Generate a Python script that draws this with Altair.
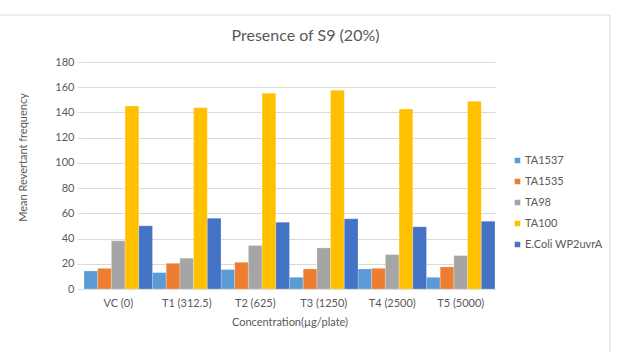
import altair as alt
import pandas as pd

categories = ["VC (0)", "T1 (312.5)", "T2 (625)", "T3 (1250)", "T4 (2500)", "T5 (5000)"]
series = ["TA1537", "TA1535", "TA98", "TA100", "E.Coli WP2uvrA"]
colors = ["#5B9BD5", "#ED7D31", "#A5A5A5", "#FFC000", "#4472C4"]

ta1537 = [14.3, 13.0, 15.4, 9.3, 15.9, 9.3]
ta1535 = [16.4, 20.4, 21.2, 15.9, 16.4, 17.5]
ta98 = [38.2, 24.4, 34.5, 32.6, 27.3, 26.5]
ta100 = [145.1, 143.8, 155.2, 157.6, 142.7, 148.8]
ecoli = [50.1, 56.2, 53.0, 55.7, 49.3, 53.8]

values = [ta1537, ta1535, ta98, ta100, ecoli]
rows = []
for s, vals in zip(series, values):
    for c, v in zip(categories, vals):
        rows.append({"Concentration": c, "Strain": s, "Value": v})
df = pd.DataFrame(rows)

FONT = "Lato"
GREY = "#595959"

bars = alt.Chart(df).mark_bar(stroke="white", strokeWidth=0.4, strokeOpacity=0.6).encode(
    x=alt.X("Concentration:N", sort=categories,
            scale=alt.Scale(paddingInner=0, paddingOuter=0),
            axis=alt.Axis(title="Concentration(µg/plate)", labelAngle=0, ticks=False,
                          domain=True, domainColor="#d9d9d9", labelPadding=8,
                          titlePadding=8, labelFontSize=11, titleFontSize=11,
                          labelColor=GREY, titleColor=GREY, titleFontWeight="normal")),
    xOffset=alt.XOffset("Strain:N", sort=series, scale=alt.Scale(paddingInner=0, paddingOuter=0)),
    y=alt.Y("Value:Q", scale=alt.Scale(domain=[0, 180]),
            axis=alt.Axis(title="Mean Revertant frequency", values=list(range(0, 181, 20)),
                          domain=False, ticks=True, tickSize=7, tickColor="#e0e0e0",
                          gridColor="#d9d9d9", labelPadding=3, titlePadding=26,
                          labelFontSize=11, titleFontSize=11, labelColor=GREY,
                          titleColor=GREY, titleFontWeight="normal", titleY=95)),
    color=alt.Color("Strain:N", sort=series,
                    scale=alt.Scale(domain=series, range=colors),
                    legend=alt.Legend(title=None, orient="none", legendX=428, legendY=93,
                                      symbolType="square", symbolSize=50,
                                      labelFontSize=11, labelColor=GREY, rowPadding=6,
                                      labelOffset=2)),
)

frame_df = pd.DataFrame({"k": [0]})
top_line = alt.Chart(frame_df).mark_rule(color="#d9d9d9", strokeWidth=1).encode(
    x=alt.value(-84), x2=alt.value(526), y=alt.value(-47))
right_line = alt.Chart(frame_df).mark_rule(color="#d9d9d9", strokeWidth=1).encode(
    x=alt.value(526), y=alt.value(-47), y2=alt.value(290))

chart = alt.layer(bars, top_line, right_line).properties(
    width=411, height=227,
    title=alt.TitleParams("Presence of S9 (20%)", fontSize=16, color=GREY,
                          font=FONT, fontWeight="normal", dx=16, offset=-29),
    autosize=alt.AutoSizeParams(type="none"),
    padding={"left": 84, "top": 62, "right": 130, "bottom": 63},
).configure(font=FONT).configure_view(stroke=None)

chart.save("out.html", embed_options={"renderer": "svg", "actions": False})
